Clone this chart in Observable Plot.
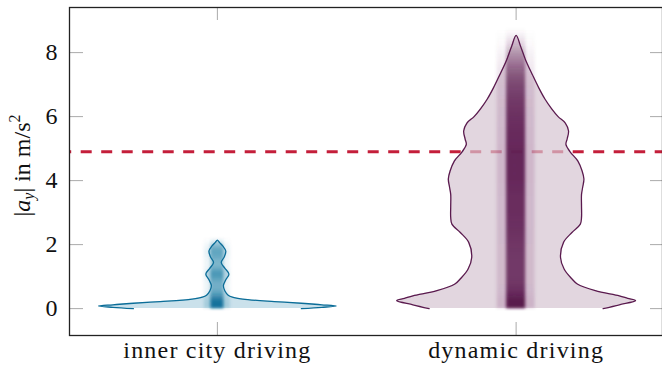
<!DOCTYPE html>
<html>
<head>
<meta charset="utf-8">
<script src="https://cdn.jsdelivr.net/npm/d3@7"></script>
<script src="https://cdn.jsdelivr.net/npm/@observablehq/plot@0.6"></script>
<style>
  html, body { margin: 0; padding: 0; background: #fff; }
</style>
</head>
<body>
<div id="chart"></div>
<script>
// ---------- data ----------
const categories = ["inner city driving", "dynamic driving"];
const catPos = [1, 2];
const yTicks = [0, 2, 4, 6, 8];
const threshold = 4.9;

// violin outlines: y value and normalised density (half width / max half width)
const innerY = [0, 0.04, 0.08, 0.12, 0.16, 0.22, 0.30, 0.36, 0.42, 0.55, 0.72, 0.90, 1.08, 1.26, 1.44, 1.62, 1.80, 1.95, 2.07, 2.14];
const innerDensity = [0.70, 0.87, 0.99, 0.87, 0.73, 0.475, 0.21, 0.125, 0.09, 0.063, 0.05, 0.07, 0.096, 0.063, 0.032, 0.058, 0.07, 0.046, 0.017, 0];

const dynY = [0, 0.12, 0.25, 0.32, 0.40, 0.56, 0.77, 0.95, 1.24, 1.60, 2.07, 2.38, 2.64, 2.85, 3.20, 3.57, 3.80, 4.05, 4.30, 4.61, 4.90, 5.13, 5.30, 5.55, 5.80, 6.00, 6.25, 6.55, 6.89, 7.30, 7.78, 8.20, 8.54];
const dynDensity = [0.725, 0.86, 0.995, 0.93, 0.86, 0.66, 0.51, 0.46, 0.40, 0.37, 0.395, 0.465, 0.535, 0.545, 0.545, 0.545, 0.555, 0.565, 0.55, 0.515, 0.45, 0.415, 0.425, 0.437, 0.41, 0.35, 0.295, 0.24, 0.19, 0.137, 0.078, 0.037, 0];

// strip of individual samples: level (y) and darkness at that level
const innerStripY = [0, 0.1, 0.2, 0.3, 0.4, 0.5, 0.6, 0.7, 0.8, 0.9, 1.0, 1.1, 1.2, 1.3, 1.4, 1.5, 1.6, 1.7, 1.8, 1.9, 2.0, 2.1, 2.2];
const innerStripA = [1, 1, 1, 0.85, 0.65, 0.5, 0.42, 0.4, 0.42, 0.5, 0.6, 0.62, 0.5, 0.38, 0.35, 0.38, 0.45, 0.5, 0.5, 0.4, 0.25, 0.1, 0];
const dynStripY = [0, 0.25, 0.5, 0.75, 1, 1.5, 2, 2.5, 3, 3.5, 4, 4.5, 5, 5.5, 6, 6.5, 7, 7.25, 7.5, 7.75, 8, 8.25, 8.5, 8.75];
const dynStripA = [1.0, 1.0, 0.88, 0.82, 0.8, 0.8, 0.82, 0.85, 0.87, 0.87, 0.9, 0.9, 0.9, 0.88, 0.85, 0.8, 0.72, 0.65, 0.55, 0.42, 0.3, 0.15, 0.06, 0];

// ---------- layout / style ----------
const W = 662, H = 375, mL = 69, mR = 0, mT = 7, mB = 40;
const plotW = W - mL - mR, plotH = H - mT - mB;
const xDomain = [0.505, 2.49];
const yDomain = [-0.84, 9.41];
const ppu = plotW / (xDomain[1] - xDomain[0]);
const maxHalf = 120 / ppu;
const serif = "'Liberation Serif', 'DejaVu Serif', serif";

const blue = "#0b6d98", blueFill = "#b3d4e2";
const purple = "#5a1a4e", purpleFill = "#d5c5d1";

function violinRows(pos, ys, dens) {
  return ys.map((y, i) => ({y, x1: pos - dens[i] * maxHalf, x2: pos + dens[i] * maxHalf}));
}
function outline(rows) {
  const left = rows.map(r => ({y: r.y, x: r.x1}));
  const right = rows.slice().reverse().slice(1).map(r => ({y: r.y, x: r.x2}));
  return left.concat(right);
}
function stripBox(pos, ys, halfPx) {
  const hw = halfPx / ppu;
  return [{x1: pos - hw, x2: pos + hw, y1: ys[0], y2: ys[ys.length - 1]}];
}

const innerRows = violinRows(catPos[0], innerY, innerDensity);
const dynRows = violinRows(catPos[1], dynY, dynDensity);
const rectOpts = {x1: "x1", x2: "x2", y1: "y1", y2: "y2"};

const plot = Plot.plot({
  width: W, height: H,
  marginLeft: mL, marginRight: mR, marginTop: mT, marginBottom: mB,
  style: {fontFamily: serif, background: "#fff", overflow: "visible"},
  x: {domain: xDomain, axis: null},
  y: {domain: yDomain, axis: null},
  marks: [
    Plot.ruleY([threshold], {stroke: "#c41e3a", strokeWidth: 3, strokeDasharray: "11,9.5", strokeDashoffset: 8.8}),
    Plot.areaX(innerRows, {y: "y", x1: "x1", x2: "x2", fill: blueFill, fillOpacity: 0.7, curve: "catmull-rom"}),
    Plot.areaX(dynRows, {y: "y", x1: "x1", x2: "x2", fill: purpleFill, fillOpacity: 0.7, curve: "catmull-rom"}),
    // sample strips (halo + core), shaded by gradients built from the strip arrays
    Plot.rect(stripBox(catPos[0], innerStripY, 13), {...rectOpts, fill: "url(#g-inner-halo)"}),
    Plot.rect(stripBox(catPos[0], innerStripY, 6.5), {...rectOpts, fill: "url(#g-inner-core)"}),
    Plot.rect(stripBox(catPos[1], dynStripY, 19), {...rectOpts, fill: "url(#g-dyn-halo)"}),
    Plot.rect(stripBox(catPos[1], dynStripY, 9.5), {...rectOpts, fill: "url(#g-dyn-core)"}),
    Plot.line(outline(innerRows), {x: "x", y: "y", stroke: blue, strokeWidth: 1.3, curve: "catmull-rom"}),
    Plot.line(outline(dynRows), {x: "x", y: "y", stroke: purple, strokeWidth: 1.3, curve: "catmull-rom"}),
    // inward ticks
    Plot.tickY(yTicks, {y: d => d, stroke: "#aaa", strokeWidth: 1, insetRight: plotW - 14}),
    Plot.tickY(yTicks, {y: d => d, stroke: "#aaa", strokeWidth: 1, insetLeft: plotW - 12}),
    Plot.tickX(catPos, {x: d => d, stroke: "#aaa", strokeWidth: 1, insetTop: plotH - 13}),
    Plot.tickX(catPos, {x: d => d, stroke: "#aaa", strokeWidth: 1, insetBottom: plotH - 13}),
    Plot.frame({stroke: "#222", strokeWidth: 1.3}),
    // tick labels
    Plot.text(yTicks, {y: d => d, text: d => String(d), frameAnchor: "left", dx: -12, textAnchor: "end", fontSize: 24, fontFamily: serif, fill: "#111"}),
    Plot.text(categories, {x: (d, i) => catPos[i], text: d => d, frameAnchor: "bottom", dy: 22, fontSize: 24, fontFamily: serif, fill: "#111"}),
    Plot.text(["YLABEL"], {text: d => d, frameAnchor: "left", fontSize: 24, fontFamily: serif, fill: "#111"})
  ]
});

const svg = d3.select(plot);

// category labels: a little wider set, like the original typeface
svg.selectAll("text").filter(function() { return categories.includes(this.textContent); })
  .attr("letter-spacing", "1.2px");

// gradients and blur for the sample strips
const defs = svg.insert("defs", ":first-child");
function gradient(id, color, ys, alphas, k) {
  const y0 = ys[0], y1 = ys[ys.length - 1];
  const g = defs.append("linearGradient").attr("id", id)
    .attr("x1", 0).attr("y1", 1).attr("x2", 0).attr("y2", 0);
  ys.forEach((y, i) => {
    g.append("stop").attr("offset", (y - y0) / (y1 - y0))
      .attr("stop-color", color).attr("stop-opacity", Math.min(1, alphas[i] * k));
  });
}
gradient("g-inner-halo", blue, innerStripY, innerStripA, 0.18);
gradient("g-inner-core", blue, innerStripY, innerStripA, 0.95);
gradient("g-dyn-halo", purple, dynStripY, dynStripA, 0.16);
gradient("g-dyn-core", purple, dynStripY, dynStripA, 1);
defs.append("filter").attr("id", "soft").attr("x", "-50%").attr("y", "-10%").attr("width", "200%").attr("height", "120%")
  .append("feGaussianBlur").attr("stdDeviation", 1.8);
svg.selectAll('g[aria-label="rect"]').attr("filter", "url(#soft)");

// y label with math formatting, rotated in the left margin
svg.selectAll("text").filter(function() { return this.textContent === "YLABEL"; }).each(function() {
  const t = d3.select(this);
  t.text(null)
    .attr("x", null).attr("y", null).attr("dy", "0.35em")
    .attr("text-anchor", "middle")
    .attr("transform", "translate(21,165) rotate(-90)");
  t.append("tspan").text("|");
  t.append("tspan").attr("font-style", "italic").text("a");
  t.append("tspan").attr("font-style", "italic").attr("font-size", 16).attr("baseline-shift", "-4").text("y");
  t.append("tspan").text("| in m/s");
  t.append("tspan").attr("font-size", 16).attr("baseline-shift", "10").text("2");
});

document.getElementById("chart").appendChild(plot);
</script>
</body>
</html>
